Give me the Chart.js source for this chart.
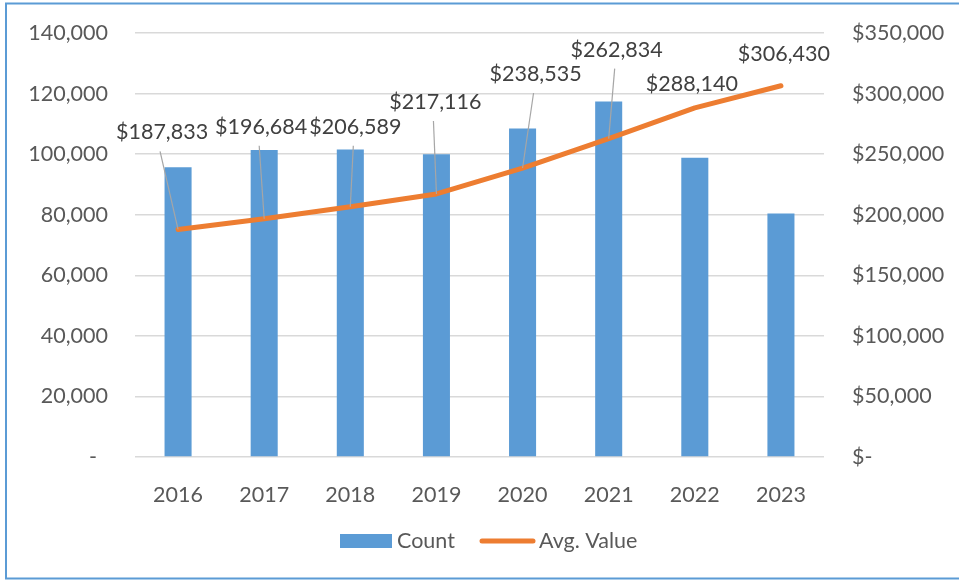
<!DOCTYPE html>
<html>
<head>
<meta charset="utf-8">
<script src="https://cdn.jsdelivr.net/npm/chart.js@4"></script>
<style>
  html, body { margin: 0; padding: 0; background: #fff; }
  #wrap { width: 959px; height: 580px; position: relative; }
</style>
</head>
<body>
<div id="wrap"><canvas id="countChart" width="959" height="580"></canvas></div>
<script>
// chart values
const years = ['2016', '2017', '2018', '2019', '2020', '2021', '2022', '2023'];
const counts = [95700, 101400, 101500, 100000, 108500, 117400, 98800, 80400];
const avgValues = [187833, 196684, 206589, 217116, 238535, 262834, 288140, 306430];
const countTicks = [0, 20000, 40000, 60000, 80000, 100000, 120000, 140000];
const valueTicks = [0, 50000, 100000, 150000, 200000, 250000, 300000, 350000];

// where each value label sits relative to its point, and whether it has a leader line
const labelOffsets = [[-16, -97], [-3, -92], [5, -80], [-1, -92], [13, -94], [8, -89], [-3, -24], [3, -32]];
const hasLeader = [true, true, true, true, true, true, false, false];

const FONT = 'Lato, "Open Sans", sans-serif';
const FS = 21.5;
const TEXT = '#595959';
const BLUE = '#5b9bd5';
const ORANGE = '#ed7d31';

const fmt = v => v.toLocaleString('en-US');

// fixed axis widths, and no extra label padding above/below the plot
function fixAxis(s) {
  s.width = 135;
  s.paddingTop = 0;
  s.paddingBottom = 0;
}

// frame, value labels and legend
const extras = {
  id: 'extras',
  afterDatasetsDraw(chart) {
    const ctx = chart.ctx;
    const meta = chart.getDatasetMeta(1);
    ctx.save();
    ctx.font = FS + 'px ' + FONT;
    ctx.textAlign = 'center';
    ctx.textBaseline = 'middle';
    meta.data.forEach((pt, i) => {
      const lx = pt.x + labelOffsets[i][0];
      const ly = pt.y + labelOffsets[i][1];
      if (hasLeader[i]) {
        ctx.strokeStyle = '#a6a6a6';
        ctx.lineWidth = 1.2;
        ctx.beginPath();
        ctx.moveTo(lx - 2, ly + 19);
        ctx.lineTo(pt.x, pt.y);
        ctx.stroke();
      }
      ctx.fillStyle = '#404040';
      ctx.fillText('$' + fmt(avgValues[i]), lx, ly);
    });
    ctx.restore();
  },
  afterDraw(chart) {
    const ctx = chart.ctx;
    ctx.save();
    // frame (left, top, bottom)
    ctx.strokeStyle = BLUE;
    ctx.lineWidth = 2;
    ctx.beginPath();
    ctx.moveTo(959, 3.5); ctx.lineTo(6, 3.5); ctx.lineTo(6, 578.5); ctx.lineTo(959, 578.5);
    ctx.stroke();
    // legend
    ctx.fillStyle = BLUE;
    ctx.fillRect(340, 534, 52, 14);
    ctx.strokeStyle = ORANGE;
    ctx.lineWidth = 5;
    ctx.lineCap = 'round';
    ctx.beginPath();
    ctx.moveTo(482, 541); ctx.lineTo(533, 541);
    ctx.stroke();
    ctx.font = FS + 'px ' + FONT;
    ctx.fillStyle = TEXT;
    ctx.textBaseline = 'middle';
    ctx.textAlign = 'left';
    ctx.fillText(chart.data.datasets[0].label, 397, 541);
    ctx.fillText(chart.data.datasets[1].label, 539, 541);
    ctx.restore();
  }
};

new Chart(document.getElementById('countChart'), {
  data: {
    labels: years,
    datasets: [
      {
        type: 'bar',
        label: 'Count',
        data: counts,
        yAxisID: 'y',
        backgroundColor: BLUE,
        categoryPercentage: 1,
        barPercentage: 0.314,
        order: 1
      },
      {
        type: 'line',
        label: 'Avg. Value',
        data: avgValues,
        yAxisID: 'y1',
        borderColor: ORANGE,
        backgroundColor: ORANGE,
        borderWidth: 5,
        borderCapStyle: 'round',
        borderJoinStyle: 'round',
        pointRadius: 0,
        tension: 0,
        order: 0
      }
    ]
  },
  options: {
    responsive: false,
    animation: false,
    layout: { padding: { left: 0, right: 0, top: 33, bottom: 63 } },
    plugins: { legend: { display: false }, tooltip: { enabled: false } },
    scales: {
      x: {
        offset: true,
        grid: { display: false },
        border: { display: false },
        ticks: { color: TEXT, font: { family: FONT, size: FS }, padding: 17, maxRotation: 0 },
        afterFit(s) { s.height = 60; }
      },
      y: {
        position: 'left',
        min: 0,
        max: 140000,
        afterBuildTicks(s) { s.ticks = countTicks.map(v => ({ value: v })); },
        grid: { color: '#d9d9d9', lineWidth: 1.5, drawTicks: false },
        border: { display: false },
        ticks: {
          color: TEXT,
          font: { family: FONT, size: FS },
          padding: 27,
          callback: v => v === 0 ? '-  ' : fmt(v)
        },
        afterFit: fixAxis
      },
      y1: {
        position: 'right',
        min: 0,
        max: 350000,
        afterBuildTicks(s) { s.ticks = valueTicks.map(v => ({ value: v })); },
        grid: { display: false, drawTicks: false },
        border: { display: false },
        ticks: {
          color: TEXT,
          font: { family: FONT, size: FS },
          padding: 28,
          callback: v => v === 0 ? '$-' : '$' + fmt(v)
        },
        afterFit: fixAxis
      }
    }
  },
  plugins: [extras]
});
</script>
</body>
</html>
